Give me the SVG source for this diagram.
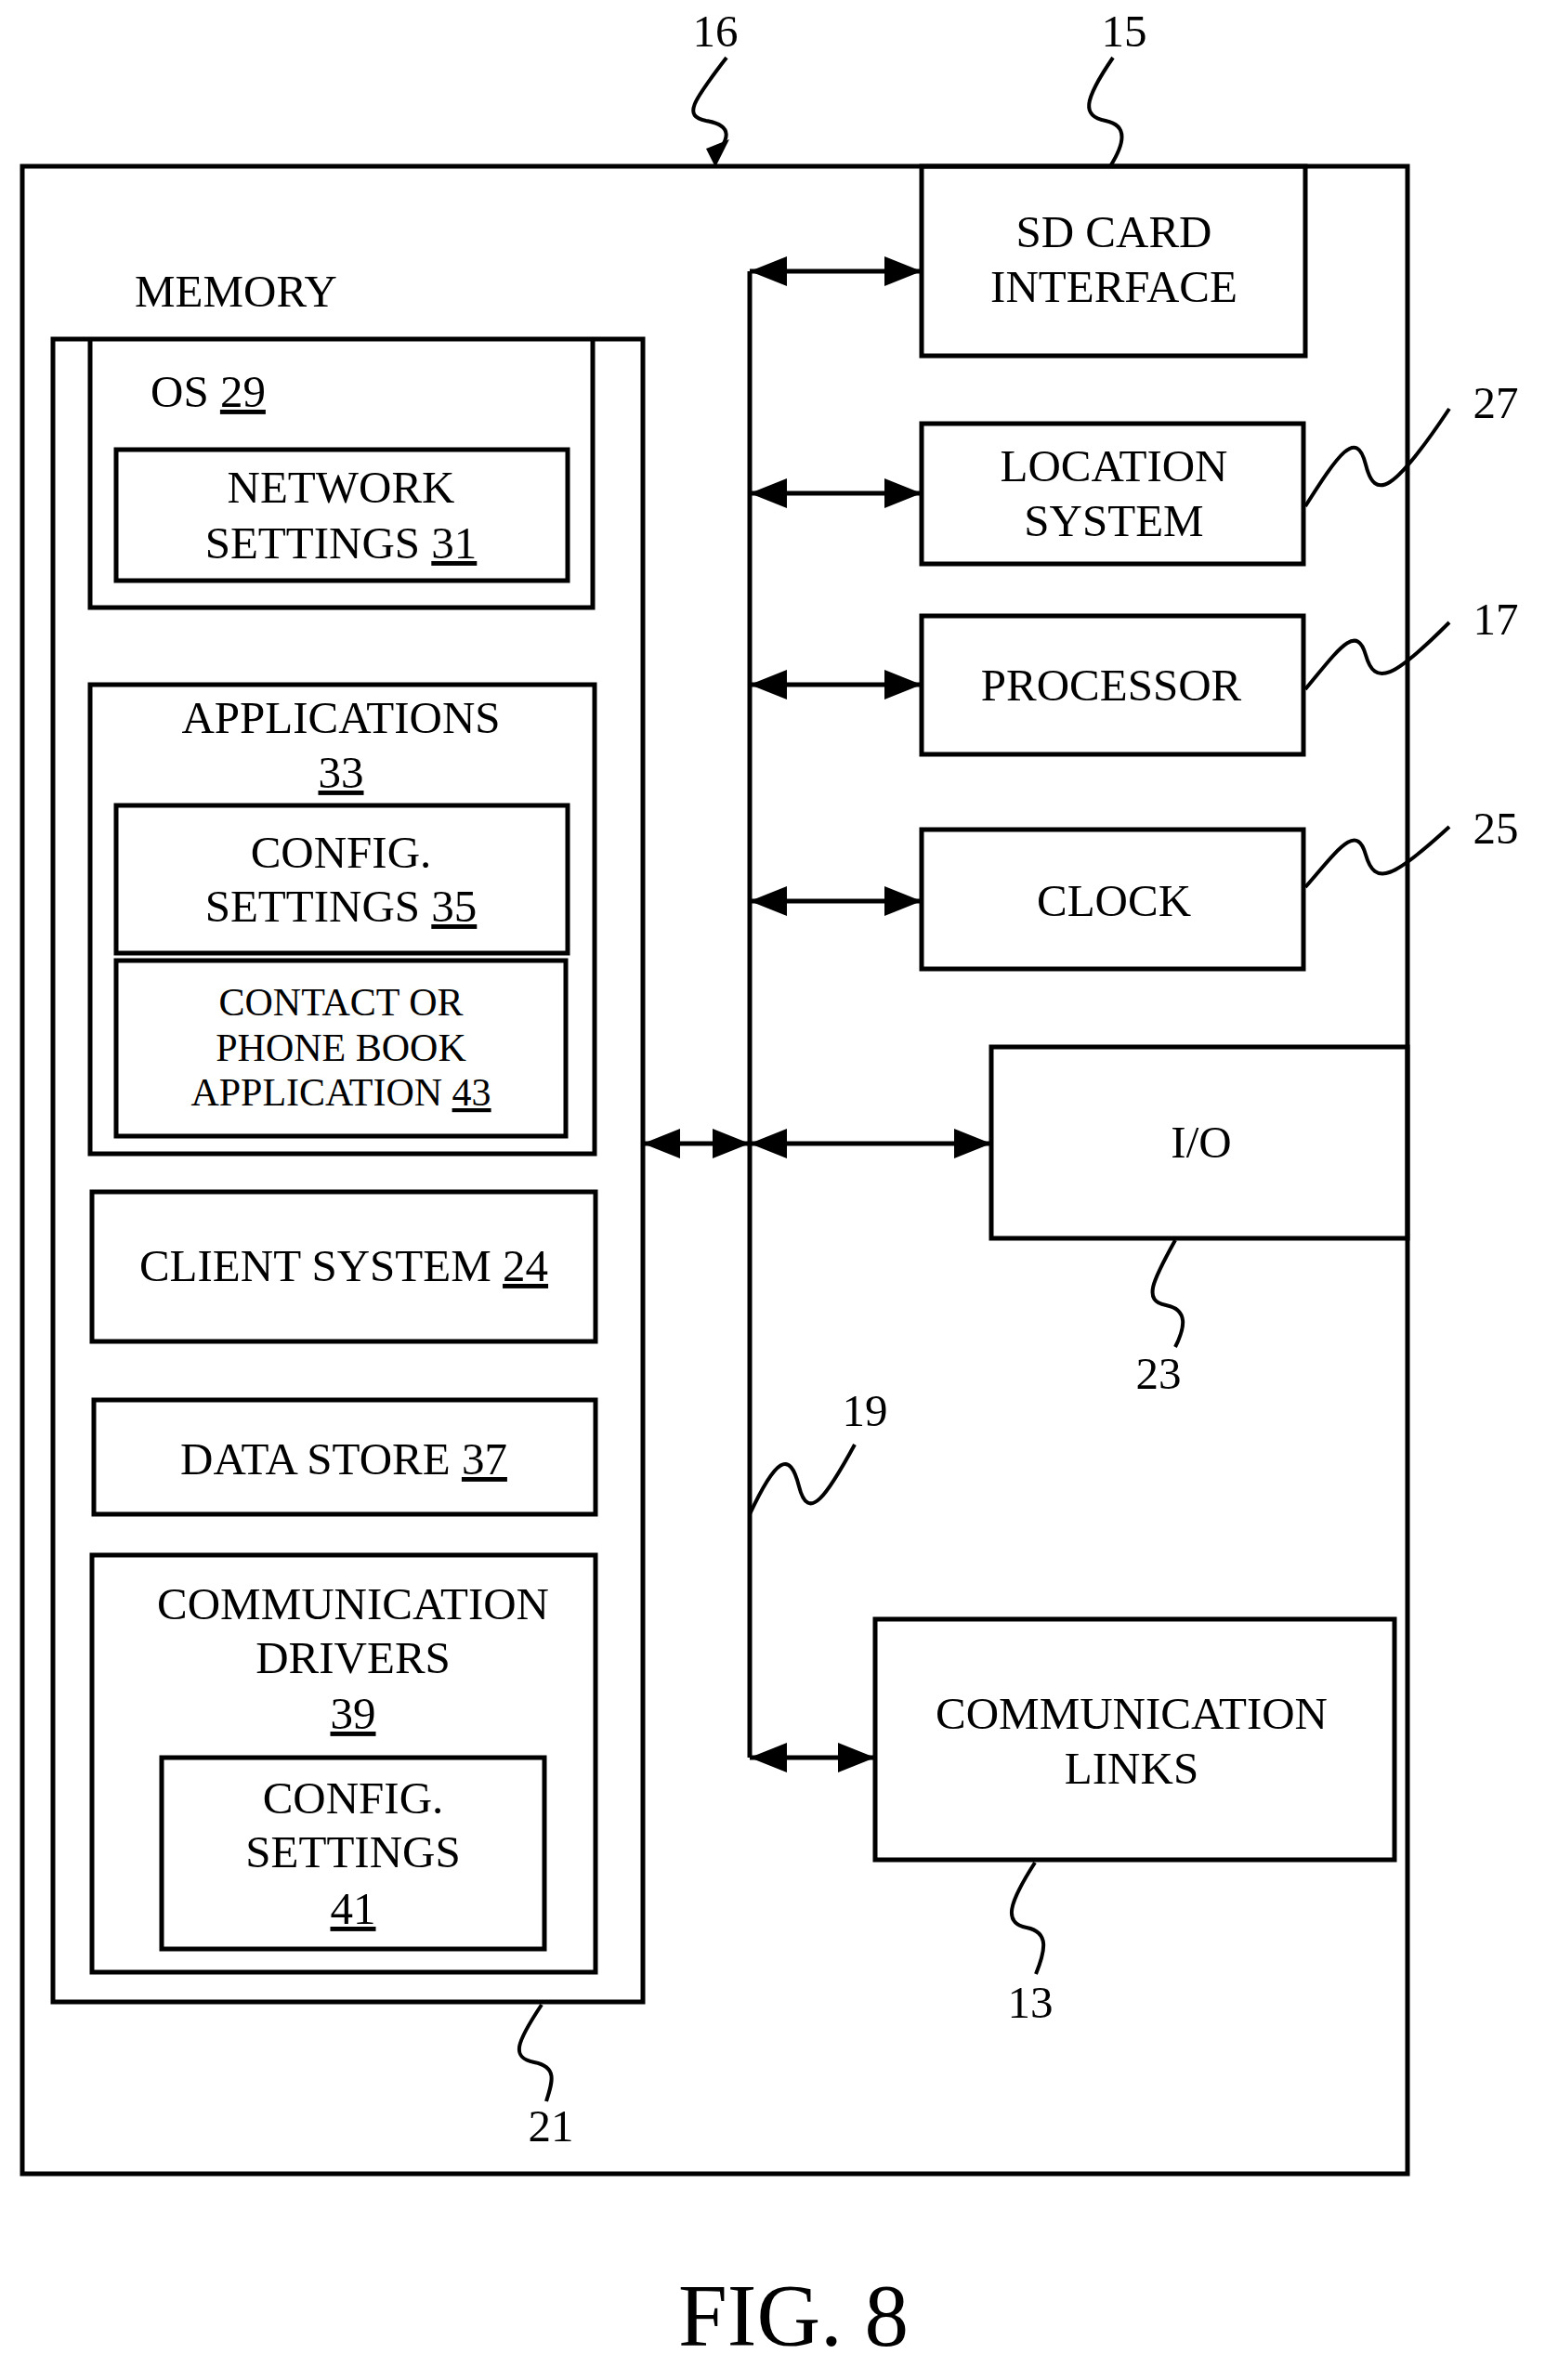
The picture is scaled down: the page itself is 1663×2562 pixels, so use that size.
<svg xmlns="http://www.w3.org/2000/svg" width="1663" height="2562" viewBox="0 0 1663 2562">
<style>
rect,.b{fill:none;stroke:#000;stroke-width:5}
.w{fill:none;stroke:#000;stroke-width:4}
text{font-family:"Liberation Serif","Times New Roman",serif;font-size:49px;text-anchor:middle;fill:#000}
.s{font-size:42px}
.u{text-decoration:underline}
</style>
<defs>
<marker id="a" markerUnits="userSpaceOnUse" markerWidth="44" markerHeight="32" refX="40" refY="16" orient="auto-start-reverse">
<path d="M0,0 L40,16 L0,32 Z" fill="#000"/>
</marker>
</defs>
<rect x="0" y="0" width="1663" height="2562" style="fill:#fff;stroke:none"/>
<g id="frame"><rect x="24" y="179" width="1491" height="2161"/></g>
<g id="memory">
<text x="145" y="330" style="text-anchor:start">MEMORY</text>
<rect x="57" y="365" width="635" height="1790"/>
</g>
<g id="os"><path class="b" d="M97 365 V654 H638 V365"/><text x="162" y="438" style="text-anchor:start">OS <tspan class="u">29</tspan></text></g>
<g id="network"><rect x="125" y="484" width="486" height="141"/><text x="367" y="541">NETWORK</text><text x="367" y="601">SETTINGS  <tspan class="u">31</tspan></text></g>
<g id="applications"><rect x="97" y="737" width="543" height="505"/><text x="367" y="789">APPLICATIONS</text><text x="367" y="848" class="u">33</text></g>
<g id="config35"><rect x="125" y="867" width="486" height="159"/><text x="367" y="934">CONFIG.</text><text x="367" y="992">SETTINGS <tspan class="u">35</tspan></text></g>
<g id="contact"><rect x="125" y="1034" width="484" height="189"/><text class="s" x="367" y="1093">CONTACT OR</text><text class="s" x="367" y="1142">PHONE BOOK</text><text class="s" x="367" y="1190">APPLICATION <tspan class="u">43</tspan></text></g>
<g id="client"><rect x="99" y="1283" width="542" height="161"/><text x="370" y="1379">CLIENT SYSTEM <tspan class="u">24</tspan></text></g>
<g id="datastore"><rect x="101" y="1507" width="540" height="123"/><text x="370" y="1587">DATA STORE <tspan class="u">37</tspan></text></g>
<g id="drivers"><rect x="99" y="1674" width="542" height="449"/><text x="380" y="1743">COMMUNICATION</text><text x="380" y="1801">DRIVERS</text><text x="380" y="1861" class="u">39</text></g>
<g id="config41"><rect x="174" y="1892" width="412" height="206"/><text x="380" y="1952">CONFIG.</text><text x="380" y="2010">SETTINGS</text><text x="380" y="2071" class="u">41</text></g>
<g id="sdcard"><rect x="992" y="179" width="413" height="204"/><text x="1199" y="266">SD CARD</text><text x="1199" y="325">INTERFACE</text></g>
<g id="location"><rect x="992" y="456" width="411" height="151"/><text x="1199" y="518">LOCATION</text><text x="1199" y="577">SYSTEM</text></g>
<g id="processor"><rect x="992" y="663" width="411" height="149"/><text x="1196" y="754">PROCESSOR</text></g>
<g id="clock"><rect x="992" y="893" width="411" height="150"/><text x="1199" y="986">CLOCK</text></g>
<g id="io"><rect x="1067" y="1127" width="448" height="206"/><text x="1293" y="1246">I/O</text></g>
<g id="commlinks"><rect x="942" y="1743" width="559" height="259"/><text x="1218" y="1861">COMMUNICATION</text><text x="1218" y="1920">LINKS</text></g>
<g id="connectors">
<path class="b" d="M807 292 V1892"/>
<path class="b" d="M807 292 H992" marker-start="url(#a)" marker-end="url(#a)"/>
<path class="b" d="M807 531 H992" marker-start="url(#a)" marker-end="url(#a)"/>
<path class="b" d="M807 737 H992" marker-start="url(#a)" marker-end="url(#a)"/>
<path class="b" d="M807 970 H992" marker-start="url(#a)" marker-end="url(#a)"/>
<path class="b" d="M807 1231 H1067" marker-start="url(#a)" marker-end="url(#a)"/>
<path class="b" d="M692 1231 H807" marker-start="url(#a)" marker-end="url(#a)"/>
<path class="b" d="M807 1892 H942" marker-start="url(#a)" marker-end="url(#a)"/>
</g>
<g id="labels">
<path class="w" d="M782 62 C745 110,735 125,760 130 C790 135,785 150,768 170"/>
<path d="M760 160 L785 150 L770 180 Z" fill="#000"/>
<text x="770" y="50">16</text>
<path class="w" d="M1198 62 C1165 110,1165 125,1190 130 C1215 135,1210 155,1195 179"/>
<text x="1210" y="50">15</text>
<path class="w" d="M1405 545 C1440 490,1460 460,1470 500 C1480 540,1500 530,1560 440"/>
<text x="1610" y="450">27</text>
<path class="w" d="M1405 742 C1440 700,1460 670,1470 705 C1480 740,1500 730,1560 670"/>
<text x="1610" y="683">17</text>
<path class="w" d="M1405 955 C1440 915,1460 885,1470 920 C1480 955,1500 945,1560 890"/>
<text x="1610" y="908">25</text>
<path class="w" d="M1265 1335 C1240 1380,1230 1400,1255 1405 C1280 1410,1275 1430,1265 1450"/>
<text x="1247" y="1495">23</text>
<path class="w" d="M807 1630 C835 1570,850 1560,860 1600 C870 1640,890 1610,920 1555"/>
<text x="931" y="1535">19</text>
<path class="w" d="M1114 2005 C1085 2050,1080 2070,1105 2075 C1130 2080,1125 2100,1115 2125"/>
<text x="1109" y="2172">13</text>
<path class="w" d="M583 2158 C555 2200,550 2215,575 2220 C600 2225,595 2240,588 2262"/>
<text x="593" y="2305">21</text>
<text x="854" y="2525" style="font-size:95px">FIG. 8</text>
</g>
</svg>
